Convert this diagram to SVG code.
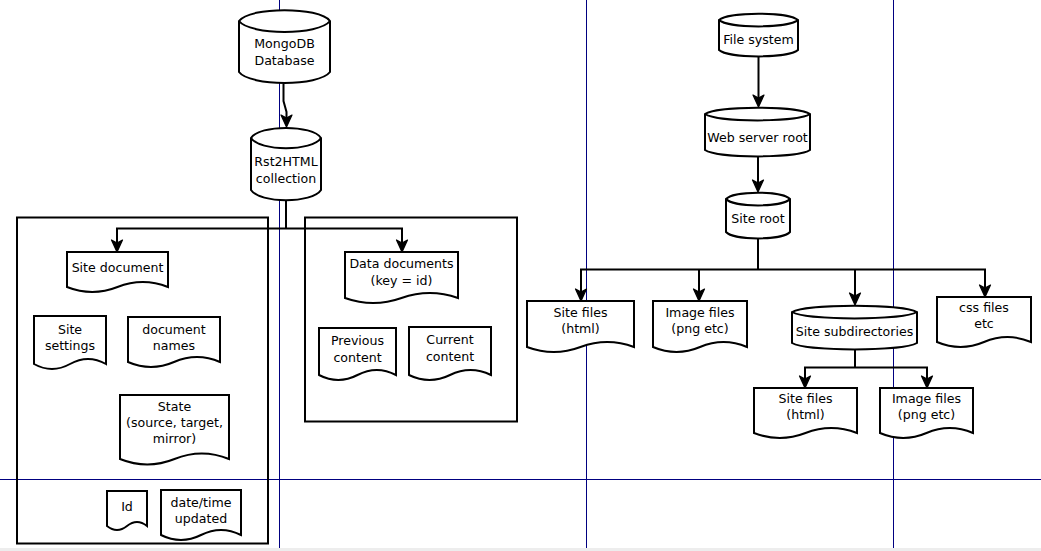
<svg xmlns="http://www.w3.org/2000/svg" width="1041" height="551" viewBox="0 0 1041 551">
<style>
.n{fill:#fff;stroke:#000;stroke-width:2;stroke-linejoin:miter}
.i{fill:none;stroke:#000;stroke-width:2}
.b{fill:none;stroke:#000;stroke-width:2}
.g{fill:none;stroke:#000080;stroke-width:1}
.c{fill:none;stroke:#000;stroke-width:2}
.a{fill:none;stroke:#000;stroke-width:2;marker-end:url(#ah)}
text{font-family:"DejaVu Sans","Liberation Sans",sans-serif;font-size:12.6px;text-anchor:middle;fill:#000}
</style>
<defs>
<marker id="ah" markerUnits="userSpaceOnUse" markerWidth="18" markerHeight="16" viewBox="-12 -8 18 16" refX="0" refY="0" orient="auto">
<path d="M3,0 L-9,-5.5 L-6,0 L-9,5.5 Z" fill="#000" stroke="#000" stroke-width="1.2" stroke-linejoin="round"/>
</marker>
</defs>
<rect x="0" y="0" width="1041" height="551" fill="#fff"/>
<rect x="0" y="548" width="1041" height="3" fill="#ededed"/>
<g id="guides">
<line class="g" x1="279.5" y1="0" x2="279.5" y2="548"/>
<line class="g" x1="586.5" y1="0" x2="586.5" y2="548"/>
<line class="g" x1="893.5" y1="0" x2="893.5" y2="548"/>
<line class="g" x1="0" y1="479.5" x2="1041" y2="479.5"/>
</g>
<g id="site-box"><rect class="b" x="17" y="217.5" width="251" height="326"/></g>
<g id="data-box"><rect class="b" x="305" y="217.5" width="212" height="204"/></g>
<g id="connectors">
<path class="a" d="M283.5,84 V101 L286.5,112 V124"/>
<path class="c" d="M286,201 V228.5"/>
<path class="a" d="M286,228.5 H117 V249"/>
<path class="a" d="M286,228.5 H402 V249"/>
<path class="a" d="M758.5,57 V104"/>
<path class="a" d="M758,157 V189"/>
<path class="c" d="M758,239 V269.5"/>
<path class="a" d="M758,269.5 H581 V298"/>
<path class="a" d="M699,269.5 V298"/>
<path class="a" d="M855,269.5 V302"/>
<path class="a" d="M758,269.5 H985 V294"/>
<path class="c" d="M855,350 V367.5"/>
<path class="a" d="M855,367.5 H805 V385"/>
<path class="a" d="M855,367.5 H927 V385"/>
</g>
<g id="mongodb">
<path class="n" d="M239,21 C250,6.5 319,6.5 330,21 L330,72 C319,86.5 250,86.5 239,72 Z"/>
<path class="i" d="M239,21 C250,35.5 319,35.5 330,21"/>
<text x="284.5" y="47.5">MongoDB</text>
<text x="284.5" y="64.5">Database</text>
</g>
<g id="rst2html">
<path class="n" d="M251,138 C259.5,124.5 312.5,124.5 321,138 L321,190 C312.5,203.5 259.5,203.5 251,190 Z"/>
<path class="i" d="M251,138 C259.5,151.5 312.5,151.5 321,138"/>
<text x="286" y="165.5">Rst2HTML</text>
<text x="286" y="182.5">collection</text>
</g>
<g id="site-document">
<path class="n" d="M67,252 H168 V287 Q142.75,277 117.5,287 T67,287 Z"/>
<text x="117.5" y="271.5">Site document</text>
</g>
<g id="site-settings">
<path class="n" d="M34,316 H106 V364 Q88,354 70,364 T34,364 Z"/>
<text x="70" y="333.5">Site</text>
<text x="70" y="349.5">settings</text>
</g>
<g id="document-names">
<path class="n" d="M128,317 H220 V362 Q197,352 174,362 T128,362 Z"/>
<text x="174" y="333.5">document</text>
<text x="174" y="349.5">names</text>
</g>
<g id="state">
<path class="n" d="M120,395 H229 V459 Q201.75,448 174.5,459 T120,459 Z"/>
<text x="174.5" y="410.5">State</text>
<text x="174.5" y="426.5">(source, target,</text>
<text x="174.5" y="442.5">mirror)</text>
</g>
<g id="id">
<path class="n" d="M107,491 H147 V526 Q137,518 127,526 T107,526 Z"/>
<text x="127" y="510.5">Id</text>
</g>
<g id="date-time">
<path class="n" d="M161,490 H241 V535 Q221,525 201,535 T161,535 Z"/>
<text x="201" y="506.5">date/time</text>
<text x="201" y="522.5">updated</text>
</g>
<g id="data-documents">
<path class="n" d="M345,252 H458 V298 Q429.75,288 401.5,298 T345,298 Z"/>
<text x="401.5" y="267.5">Data documents</text>
<text x="401.5" y="284.5">(key = id)</text>
</g>
<g id="previous-content">
<path class="n" d="M319,328 H396 V375 Q376.75,365 357.5,375 T319,375 Z"/>
<text x="357.5" y="344.5">Previous</text>
<text x="357.5" y="361.5">content</text>
</g>
<g id="current-content">
<path class="n" d="M409,327 H491 V375 Q470.5,365 450,375 T409,375 Z"/>
<text x="450" y="343.5">Current</text>
<text x="450" y="360.5">content</text>
</g>
<g id="file-system">
<path class="n" d="M719,20 C728.5,11.5 788.5,11.5 798,20 L798,50 C788.5,58.5 728.5,58.5 719,50 Z"/>
<path class="i" d="M719,20 C728.5,28.5 788.5,28.5 798,20"/>
<text x="758.5" y="43.5">File system</text>
</g>
<g id="web-server-root">
<path class="n" d="M705,114 C717.5,105.5 797.5,105.5 810,114 L810,150 C797.5,158.5 717.5,158.5 705,150 Z"/>
<path class="i" d="M705,114 C717.5,122.5 797.5,122.5 810,114"/>
<text x="757.5" y="141.5">Web server root</text>
</g>
<g id="site-root">
<path class="n" d="M726,199 C733.5,190.5 782.5,190.5 790,199 L790,232 C782.5,240.5 733.5,240.5 726,232 Z"/>
<path class="i" d="M726,199 C733.5,207.5 782.5,207.5 790,199"/>
<text x="758" y="222.5">Site root</text>
</g>
<g id="site-files-1">
<path class="n" d="M527,301 H634 V347 Q607.25,337 580.5,347 T527,347 Z"/>
<text x="580.5" y="316.5">Site files</text>
<text x="580.5" y="332.5">(html)</text>
</g>
<g id="image-files-1">
<path class="n" d="M653,301 H747 V347 Q723.5,337 700,347 T653,347 Z"/>
<text x="700" y="316.5">Image files</text>
<text x="700" y="332.5">(png etc)</text>
</g>
<g id="site-subdirectories">
<path class="n" d="M792,312 C807,303.5 902,303.5 917,312 L917,343 C902,351.5 807,351.5 792,343 Z"/>
<path class="i" d="M792,312 C807,320.5 902,320.5 917,312"/>
<text x="854.5" y="335.5">Site subdirectories</text>
</g>
<g id="css-files">
<path class="n" d="M937,297 H1031 V342 Q1007.5,332 984,342 T937,342 Z"/>
<text x="984" y="312">css files</text>
<text x="984" y="328">etc</text>
</g>
<g id="site-files-2">
<path class="n" d="M754,388 H857 V433 Q831.25,423 805.5,433 T754,433 Z"/>
<text x="805.5" y="402.5">Site files</text>
<text x="805.5" y="419">(html)</text>
</g>
<g id="image-files-2">
<path class="n" d="M880,388 H973 V433 Q949.75,423 926.5,433 T880,433 Z"/>
<text x="926.5" y="402.5">Image files</text>
<text x="926.5" y="419">(png etc)</text>
</g>
</svg>
